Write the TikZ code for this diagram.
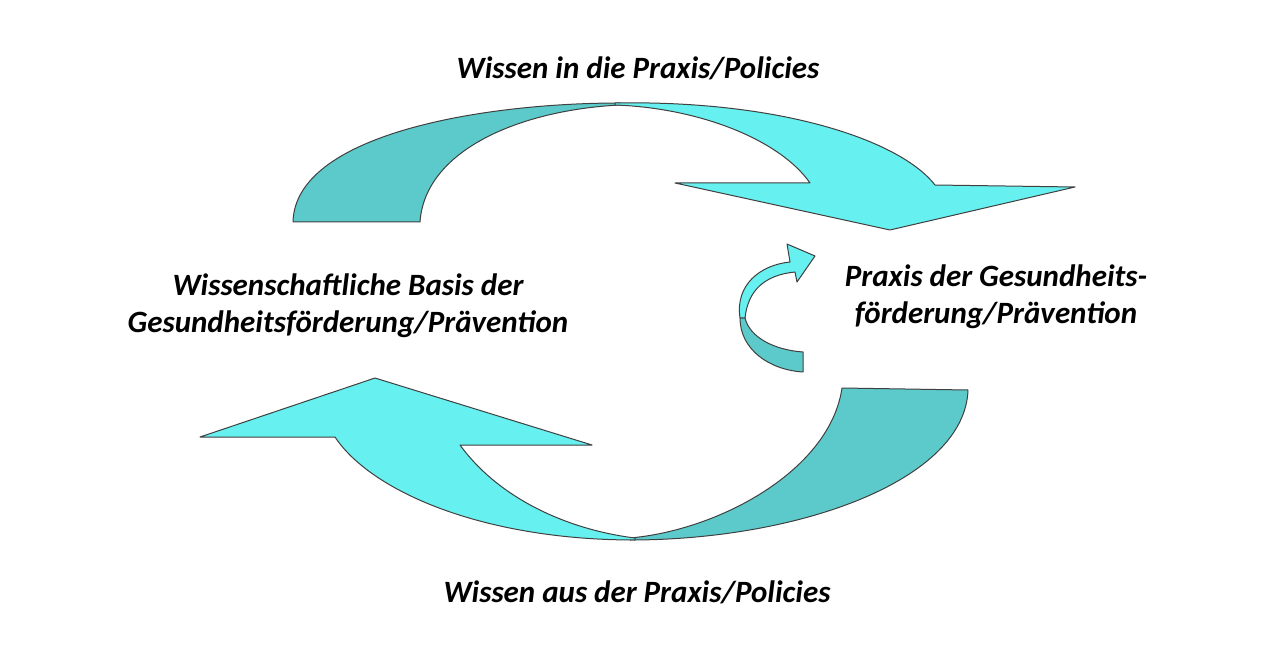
\documentclass[tikz,border=0pt]{standalone}
\usepackage{fontspec}
\setmainfont{Carlito}
\definecolor{cdark}{HTML}{5CCACA}
\definecolor{clight}{HTML}{66F0F0}
\begin{document}
\begin{tikzpicture}[x=0.5pt,y=-0.5pt,
  dark/.style={fill=cdark, draw=black!75, line width=0.5pt, line join=round},
  light/.style={fill=clight, draw=black!75, line width=0.5pt, line join=round},
  lbl/.style={font=\fontsize{15.5}{18.5}\selectfont\bfseries\itshape, align=center}]
\useasboundingbox (0,0) rectangle (1280,663);
% top arrow
\path[dark] (293,222) .. controls (295,135) and (480,103) .. (620,103)
  -- (620,105) .. controls (520,110) and (425,150) .. (420,222) -- cycle;
\path[light] (615,103) .. controls (780,100) and (900,140) .. (935,185) -- (1075,187) -- (890,230) -- (675,183) -- (810,183) .. controls (780,140) and (700,108) .. (615,105) -- cycle;
% bottom arrow
\path[dark] (968,390) .. controls (965,480) and (800,540) .. (630,540)
  -- (630,538) .. controls (720,530) and (830,470) .. (842,388) -- cycle;
\path[light] (635,540) .. controls (480,540) and (370,490) .. (335,437) -- (200,437) -- (375,378) -- (592,445) -- (460,445) .. controls (500,500) and (570,530) .. (635,538) -- cycle;
% small arrow
\path[dark] (740,318) .. controls (740,350) and (770,370) .. (803,372) -- (803,352) .. controls (775,350) and (750,338) .. (745,318) -- cycle;
\path[light] (740,318) .. controls (735,285) and (760,265) .. (790,262) -- (787,244) -- (815,256) -- (797,282) -- (795,272) .. controls (765,275) and (748,290) .. (745,318) -- cycle;
% labels
\node[lbl] (top) at (638,68) {Wissen in die Praxis/Policies};
\node[lbl] (bot) at (637,592) {Wissen aus der Praxis/Policies};
\node[lbl] (left) at (348,306) {Wissenschaftliche Basis der\\Gesundheitsförderung/Prävention};
\node[lbl] (right) at (996,297) {Praxis der Gesundheits-\\förderung/Prävention};
\end{tikzpicture}
\end{document}
